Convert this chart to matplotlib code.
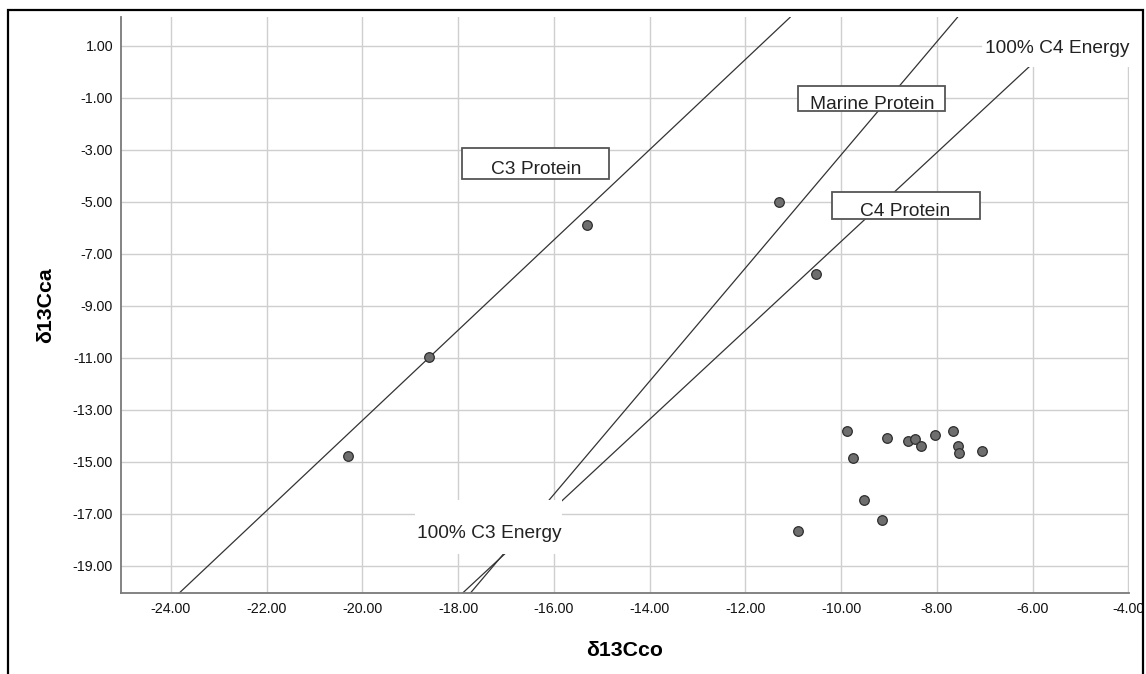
import matplotlib.pyplot as plt
from matplotlib.patches import Rectangle

plt.rcParams['font.family'] = ['Liberation Sans', 'DejaVu Sans']

# collagen (x) and carbonate/apatite (y) delta 13C values
co = [-20.3, -18.6, -15.3, -11.3, -10.53,
      -9.885, -9.04, -8.61, -8.46, -8.34, -8.03, -7.67, -7.56, -7.53, -7.06,
      -9.75, -9.52, -9.15, -10.91]
ca = [-14.78, -10.98, -5.91, -5.0, -7.78,
      -13.83, -14.08, -14.2, -14.12, -14.41, -13.97, -13.83, -14.38, -14.68, -14.59,
      -14.85, -16.47, -17.23, -17.67]

# reference lines (y = slope * x + intercept)
line_names = ['C3 Protein', 'Marine Protein', 'C4 Protein']
slopes = [1.735, 2.176, 1.71]
intercepts = [21.29, 18.56, 10.57]

xticks = [-24, -22, -20, -18, -16, -14, -12, -10, -8, -6, -4]
yticks = [1, -1, -3, -5, -7, -9, -11, -13, -15, -17, -19]

W, H = 1146, 674
fig = plt.figure(figsize=(W / 100, H / 100), dpi=100)
ax = fig.add_axes([120.7 / W, (H - 593.3) / H, (1129 - 120.7) / W, (593.3 - 17.3) / H])

ax.set_xlim(-25.05, -3.985)
ax.set_ylim(-20.06, 2.092)
ax.set_xticks(xticks)
ax.set_yticks(yticks)
ax.set_xticklabels(['%.2f' % v for v in xticks])
ax.set_yticklabels(['%.2f' % v for v in yticks])
ax.tick_params(length=0, labelsize=10.3, colors='#111111')
ax.tick_params(axis='x', pad=6.5)
ax.tick_params(axis='y', pad=5.5)
ax.grid(True, color='#cfcfcf', linewidth=1.0)
ax.set_axisbelow(True)
for s in ['top', 'right']:
    ax.spines[s].set_visible(False)
for s in ['left', 'bottom']:
    ax.spines[s].set_color('#7a7a7a')
    ax.spines[s].set_linewidth(1.3)

# reference lines
for m, b in zip(slopes, intercepts):
    ax.axline((0, b), slope=m, color='#333333', linewidth=0.9, zorder=2)

# label boxes (white fill, covering lines and grid)
boxes = {
    'C3 Protein': ((-17.93, -4.138), 3.08, 1.19, (-16.37, -3.93)),
    'Marine Protein': ((-10.89, -1.53), 3.07, 0.97, (-9.35, -1.42)),
    'C4 Protein': ((-10.19, -5.67), 3.09, 1.03, (-8.66, -5.54)),
}
for name in line_names:
    xy, w, h, txy = boxes[name]
    ax.add_patch(Rectangle(xy, w, h, facecolor='white', edgecolor='#555555',
                           linewidth=1.3, zorder=3))
    ax.text(txy[0], txy[1], name, ha='center', va='baseline', fontsize=13.8,
            color='#222222', zorder=4)

# end labels with plain white background
ax.add_patch(Rectangle((-18.90, -18.55), 3.07, 2.08, facecolor='white',
                       edgecolor='none', zorder=3))
ax.text(-17.34, -17.95, '100% C3 Energy', ha='center', va='baseline',
        fontsize=13.8, color='#222222', zorder=4)
ax.add_patch(Rectangle((-7.06, 0.18), 3.16, 1.912, facecolor='white',
                       edgecolor='none', zorder=3, clip_on=False))
ax.text(-5.48, 0.70, '100% C4 Energy', ha='center', va='baseline',
        fontsize=13.8, color='#222222', zorder=4, clip_on=False)

ax.scatter(co, ca, s=48, facecolor='#6e6e6e', edgecolor='#2e2e2e',
           linewidth=0.9, zorder=5)

ax.set_xlabel('δ13Cco', fontsize=15.3, fontweight='bold', labelpad=17.5)
ax.set_ylabel('δ13Cca', fontsize=15.3, fontweight='bold', labelpad=13)

# outer frame
fig.patches.append(Rectangle((7.7 / W, -0.05), (1143 - 7.7) / W, 1.05 - 10.3 / H,
                             transform=fig.transFigure, fill=False,
                             edgecolor='black', linewidth=1.6))

fig.savefig('out.png', dpi=100)
